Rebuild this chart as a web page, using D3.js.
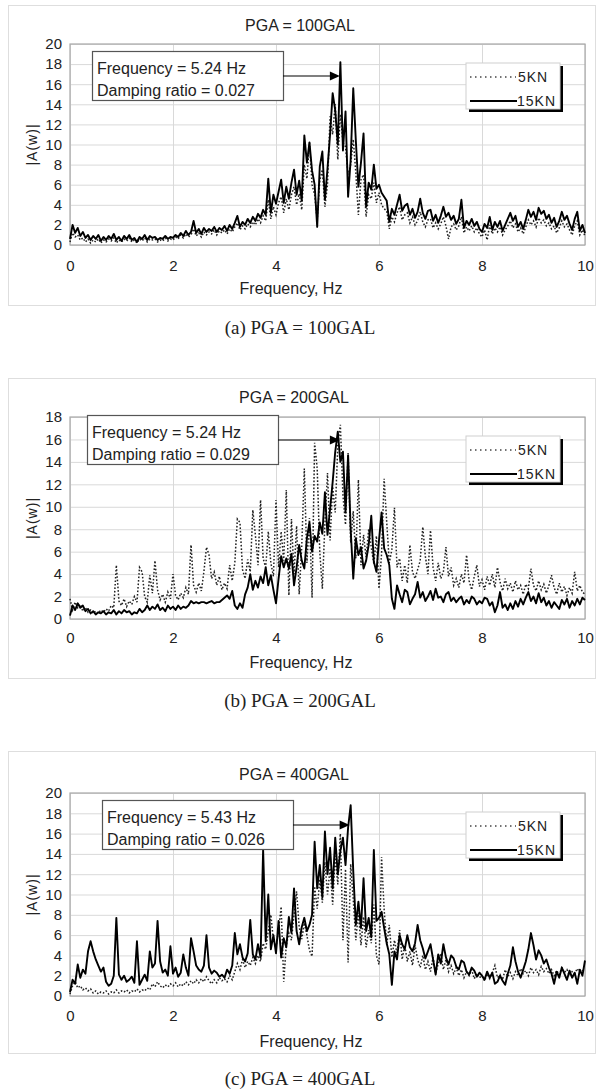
<!DOCTYPE html>
<html>
<head>
<meta charset="utf-8">
<script src="https://cdn.jsdelivr.net/npm/d3@7"></script>
<style>
  body { margin: 0; background: #fff; }
  svg { display: block; }
  text { font-family: "Liberation Sans", Arial, sans-serif; fill: #222; }
</style>
</head>
<body>
<script>
// spectra sampled every 0.05 Hz from 0 to 10 Hz (201 bins)
const freqStep = 0.05;
const xTicks = [0, 2, 4, 6, 8, 10];
const seriesNames = ['5KN', '15KN'];
const panelTitles = ['PGA = 100GAL', 'PGA = 200GAL', 'PGA = 400GAL'];
const panelCaptions = ['(a) PGA = 100GAL', '(b) PGA = 200GAL', '(c) PGA = 400GAL'];
const yMaxes = [20, 18, 20];
const peakFreqs = [5.24, 5.24, 5.43];
const dampingRatios = ['0.027', '0.029', '0.026'];

const a100_5kn = [
  0.3, 1.2, 0.8, 1.0, 0.5, 0.7, 0.3, 0.6, 0.2, 0.5,
  0.3, 0.6, 0.2, 0.5, 0.3, 0.6, 0.4, 0.7, 0.2, 0.5,
  0.3, 0.6, 0.4, 0.7, 0.3, 0.5, 0.2, 0.6, 0.4, 0.7,
  0.3, 0.6, 0.5, 0.6, 0.3, 0.5, 0.4, 0.7, 0.4, 0.6,
  0.5, 0.8, 0.6, 1.0, 0.7, 1.1, 0.8, 1.0, 1.6, 0.9,
  1.2, 0.8, 1.3, 1.0, 1.3, 1.1, 1.5, 1.0, 1.4, 1.2,
  1.5, 1.1, 1.6, 1.3, 1.8, 2.2, 1.5, 1.9, 1.6, 2.1,
  1.8, 2.3, 2.0, 2.6, 2.2, 2.9, 2.4, 4.5, 2.6, 3.8,
  3.0, 4.2, 4.8, 3.2, 4.6, 3.5, 5.0, 5.8, 4.0, 5.1,
  3.5, 8.0, 6.6, 10.2, 6.0, 5.0, 2.5, 6.4, 7.5, 3.8,
  6.0, 12.8, 11.0, 14.0, 8.5, 13.0, 10.2, 9.8, 7.0, 8.0,
  10.5, 7.2, 3.0, 6.5, 7.0, 2.8, 5.0, 4.6, 6.2, 4.2,
  5.2, 4.0, 3.6, 3.4, 1.6, 2.8, 2.3, 3.2, 3.8, 2.5,
  3.0, 3.2, 2.2, 2.8, 2.0, 2.4, 3.3, 2.3, 1.8, 2.5,
  2.6, 1.7, 2.2, 1.6, 2.1, 2.8, 1.9, 0.6, 1.8, 2.1,
  1.5, 1.9, 2.8, 1.2, 1.8, 1.4, 1.9, 1.3, 1.7, 1.1,
  0.8, 1.5, 0.5, 2.0, 1.1, 1.7, 1.3, 1.8, 1.0, 1.5,
  1.9, 2.4, 1.7, 2.1, 1.3, 1.7, 1.1, 1.8, 2.5, 2.0,
  2.4, 1.8, 2.7, 2.2, 2.5, 1.9, 2.2, 1.6, 1.9, 1.2,
  1.7, 2.4, 1.8, 2.1, 1.5, 1.0, 1.9, 2.4, 1.0, 1.5,
  0.9
];
const a100_15kn = [
  0.6, 2.0, 1.2, 1.7, 0.9, 1.3, 0.7, 1.0, 0.5, 0.9,
  0.6, 1.0, 0.4, 0.8, 0.5, 0.9, 0.6, 1.1, 0.5, 0.8,
  0.4, 0.9, 0.6, 1.0, 0.5, 0.7, 0.3, 0.8, 0.6, 1.0,
  0.5, 0.9, 0.7, 0.8, 0.5, 0.7, 0.6, 0.9, 0.6, 0.8,
  0.7, 1.0, 0.8, 1.2, 0.9, 1.4, 1.0, 1.3, 2.4, 1.2,
  1.6, 1.1, 1.7, 1.3, 1.6, 1.4, 1.8, 1.3, 1.7, 1.5,
  1.9, 1.4, 2.0, 1.6, 2.2, 2.9, 1.8, 2.3, 2.0, 2.6,
  2.2, 2.8, 2.4, 3.1, 2.7, 3.5, 3.0, 6.6, 3.2, 5.0,
  4.1, 5.3, 6.5, 4.2, 5.8, 4.6, 6.2, 7.5, 5.0, 6.4,
  4.4, 10.9, 8.2, 10.2, 7.4, 6.0, 1.8, 7.8, 9.3, 4.5,
  7.6, 11.0, 15.1, 13.4, 10.0, 18.2, 9.4, 13.3, 4.8, 8.5,
  15.6, 10.4, 5.8, 8.2, 11.1, 3.8, 6.2, 5.5, 8.0, 5.6,
  6.0, 5.2, 4.8, 4.4, 2.3, 3.6, 3.0, 4.0, 5.0, 3.4,
  3.9, 4.1, 3.0, 3.6, 2.7, 3.3, 4.6, 3.2, 2.6, 3.4,
  3.5, 2.4, 3.0, 2.2, 2.9, 3.8, 2.8, 3.2, 2.5, 2.9,
  2.1, 2.6, 4.5, 1.7, 2.4, 2.0, 2.6, 1.9, 2.3, 1.6,
  1.3, 2.1, 1.7, 2.8, 1.5, 2.3, 1.8, 2.4, 1.4, 2.0,
  2.6, 3.2, 2.4, 2.9, 1.8, 2.3, 1.6, 2.5, 3.5, 2.8,
  3.3, 2.5, 3.7, 3.1, 3.4, 2.6, 3.0, 2.2, 2.7, 1.8,
  2.4, 3.3, 2.5, 2.9, 2.1, 1.5, 2.6, 3.3, 1.4, 2.0,
  1.2
];
const a200_5kn = [
  1.8, 0.8, 1.5, 1.0, 1.3, 0.7, 1.0, 0.6, 0.8, 0.5,
  0.7, 0.5, 0.8, 0.6, 0.9, 0.7, 1.2, 1.0, 4.8, 1.6,
  1.2, 1.8, 1.1, 1.6, 1.3, 2.0, 1.5, 4.6, 4.2, 2.0,
  1.5, 3.9, 2.3, 5.2, 2.6, 1.7, 2.2, 1.5, 2.4, 1.8,
  4.0, 2.1, 1.7, 2.3, 1.9, 2.8, 2.2, 6.6, 3.0, 2.4,
  3.2, 2.5, 4.2, 6.4, 5.7, 3.6, 4.2, 3.0, 3.8, 2.6,
  3.2, 2.7, 4.8, 3.4, 5.0, 8.9, 8.6, 4.4, 3.6, 5.3,
  4.2, 9.7, 7.5, 4.8, 10.6, 5.4, 4.6, 7.8, 5.0, 3.8,
  10.6, 4.6, 7.8, 5.2, 11.5, 2.1, 8.9, 4.0, 8.3, 2.2,
  6.5, 13.4, 5.0, 9.0, 1.9, 15.7, 13.4, 6.0, 2.7, 8.5,
  13.0, 7.0, 11.8, 9.5, 15.5, 17.3, 11.0, 8.4, 14.8, 6.8,
  9.6, 5.4, 12.4, 4.8, 7.5, 5.5, 8.0, 6.4, 4.9, 7.4,
  2.7, 5.8, 12.5, 8.6, 5.0, 6.2, 9.9, 4.6, 5.4, 3.4,
  4.8, 3.2, 6.6, 4.2, 3.6, 4.4, 5.2, 8.2, 5.6, 4.0,
  7.9, 4.6, 3.4, 5.0, 3.6, 4.2, 6.4, 3.8, 4.6, 3.0,
  3.6, 2.8, 4.0, 3.2, 5.7, 3.4, 2.6, 3.8, 4.8, 2.9,
  3.5, 2.6, 3.8, 3.0, 4.0, 2.8, 4.6, 3.3, 2.5, 3.6,
  2.7, 3.2, 2.4, 3.4, 2.6, 3.0, 2.2, 3.1, 2.7, 4.5,
  3.0, 2.5, 3.4, 2.6, 3.1, 2.3, 3.0, 3.9, 2.8, 2.2,
  3.2, 2.4, 2.9, 2.1, 2.8, 2.3, 4.2, 2.5, 3.0, 2.4,
  2.2
];
const a200_15kn = [
  0.3, 1.2, 0.8, 1.4, 1.0, 1.2, 0.7, 0.9, 0.5, 0.7,
  0.4, 0.6, 0.5, 0.7, 0.4, 0.6, 0.5, 0.8, 0.4, 0.7,
  0.5, 0.8, 0.6, 0.7, 0.4, 0.6, 0.5, 0.9, 0.6, 0.8,
  1.2, 0.8, 1.1, 0.9, 1.3, 0.8, 1.0, 0.7, 1.2, 0.9,
  1.1, 0.8, 1.2, 0.9, 1.1, 1.0, 1.2, 1.6, 1.4, 1.5,
  1.4, 1.5, 1.5, 1.4, 1.5, 1.6, 1.4, 1.5, 1.5, 1.7,
  1.9, 2.1, 1.8, 2.5, 1.2, 0.9, 1.4, 1.0, 2.2, 2.8,
  4.0, 2.6, 3.4, 2.8, 3.8, 3.2, 4.6, 3.0, 3.9, 2.6,
  1.4, 3.6, 5.6, 4.6, 5.4, 4.5, 5.8, 3.0, 4.6, 6.6,
  5.2, 4.5, 7.2, 8.6, 6.0, 7.4, 6.9, 8.6, 7.6, 11.3,
  7.5, 9.8, 12.2, 14.9, 16.7, 14.0, 14.9, 9.5, 14.6, 8.0,
  3.6, 7.2, 5.7, 6.4, 4.5, 5.2, 6.6, 9.2, 5.1, 4.2,
  7.0, 9.5, 6.3, 5.7, 4.8, 1.8, 0.9, 3.0, 2.2, 1.5,
  2.6, 2.4, 1.3, 1.8, 2.2, 3.3, 1.9, 2.4, 1.6, 2.0,
  2.5, 1.7, 2.7, 1.9, 2.0, 1.5, 2.2, 2.4, 1.6, 1.9,
  1.5, 1.8, 2.0, 1.3, 1.7, 1.4, 2.0, 1.8, 1.3, 1.6,
  1.4, 1.9, 1.8, 1.2, 1.5, 0.6, 1.2, 2.4, 1.0, 1.3,
  0.8, 1.4, 0.9, 1.6, 1.1, 1.8, 1.3, 1.9, 2.4, 1.6,
  2.0, 1.4, 2.3, 1.5, 1.9, 1.2, 1.6, 1.0, 1.5, 1.2,
  0.9, 1.7, 1.3, 1.8, 1.0, 1.6, 1.2, 1.8, 1.3, 1.9,
  1.7
];
const a400_5kn = [
  0.2, 1.0, 1.4, 0.8, 1.0, 0.6, 0.8, 0.5, 0.7, 0.3,
  0.5, 0.2, 0.4, 0.3, 0.5, 0.2, 0.4, 0.3, 0.6, 0.3,
  0.5, 0.4, 0.6, 0.3, 0.5, 0.4, 0.7, 0.4, 0.6, 0.5,
  0.8, 0.6, 1.2, 0.9, 1.4, 1.0, 0.8, 1.1, 0.9, 1.2,
  1.0, 1.3, 0.9, 1.2, 1.0, 1.4, 1.1, 1.5, 1.2, 1.6,
  1.3, 1.7, 1.4, 1.9, 1.5, 1.2, 1.6, 1.3, 1.8, 1.5,
  1.7, 1.4, 2.0, 1.6, 2.4, 3.2, 2.6, 3.6, 2.8, 3.4,
  3.0, 3.8, 3.2, 4.0, 3.4, 5.2, 4.6, 6.4, 8.0, 5.5,
  4.8, 6.5, 8.8, 1.4, 5.0, 6.2, 5.5, 8.0, 10.3, 6.8,
  5.6, 7.2, 6.0, 4.5, 3.9, 10.8, 8.6, 11.5, 9.2, 13.2,
  10.0, 12.6, 9.0, 13.8, 11.0, 16.0, 5.5, 12.5, 3.3, 13.0,
  9.5, 5.5, 8.2, 5.0, 7.8, 4.8, 6.5, 5.2, 9.0, 4.0,
  3.1, 13.7, 8.5, 5.0, 7.0, 3.8, 5.5, 4.2, 6.5, 3.6,
  5.0, 3.4, 4.4, 3.0, 5.0, 3.6, 2.8, 4.0, 2.6, 3.4,
  2.4, 3.8, 2.2, 3.2, 4.2, 2.6, 3.6, 2.4, 3.0, 2.2,
  2.8, 2.0, 2.6, 1.8, 2.4, 2.0, 2.6, 1.7, 2.2, 1.8,
  2.0, 1.5, 2.2, 1.7, 2.3, 3.0, 1.8, 2.1, 1.6, 2.6,
  1.9, 2.3, 1.7, 2.4, 2.0, 2.7, 2.2, 2.5, 2.0, 2.8,
  2.3, 2.6, 2.1, 2.9, 2.4, 2.7, 2.2, 2.6, 2.0, 2.5,
  2.1, 2.8, 2.3, 2.6, 2.0, 2.4, 2.2, 2.7, 2.3, 2.5,
  2.6
];
const a400_15kn = [
  0.4, 1.6, 1.2, 3.1, 1.8, 2.6, 2.2, 4.4, 5.4, 4.4,
  3.6, 3.0, 2.4, 2.8, 1.4, 1.0, 1.2, 2.0, 7.7, 2.1,
  1.6, 2.0, 1.4, 1.6, 1.9, 1.3, 5.4, 1.1, 1.6, 2.1,
  1.5, 4.4, 2.8, 3.2, 7.4, 3.4, 2.3, 2.6, 2.0, 4.9,
  2.2, 2.8, 1.9, 2.3, 4.1, 2.8, 2.0, 5.7, 4.4, 3.0,
  2.6, 2.4, 3.0, 6.0, 2.8, 2.2, 2.5, 2.3, 1.9, 2.1,
  1.8, 2.6, 2.2, 3.0, 6.2, 4.1, 5.1, 3.8, 3.4, 4.2,
  7.5, 4.1, 3.6, 5.1, 3.8, 14.4, 5.4, 10.0, 4.6, 6.0,
  4.2, 7.4, 3.8, 5.7, 4.8, 7.8, 6.2, 10.6, 6.4, 5.1,
  6.8, 7.7, 6.4, 7.0, 8.0, 15.2, 10.6, 12.9, 9.7, 16.2,
  12.0, 14.6, 10.6, 15.6, 12.0, 14.3, 15.6, 12.9, 16.6, 18.8,
  12.3, 7.0, 9.3, 6.7, 11.6, 6.4, 7.7, 5.8, 14.4, 7.4,
  7.7, 8.3, 6.7, 5.2, 4.1, 1.1, 4.4, 3.6, 6.0, 5.1,
  4.6, 6.0, 4.8, 4.4, 5.2, 7.0, 5.5, 4.7, 3.7, 4.4,
  5.1, 3.6, 2.1, 4.1, 3.2, 5.1, 3.8, 3.1, 4.0, 3.7,
  2.9, 2.6, 3.5, 3.3, 2.4, 2.1, 2.8, 2.5, 1.9, 2.3,
  2.0, 1.6, 2.4, 1.8, 2.3, 1.2, 1.4, 2.0, 1.5, 1.1,
  2.2, 3.0, 4.8, 3.4, 2.4, 1.8, 2.6, 3.4, 4.6, 6.2,
  5.0, 3.6, 4.5, 4.0, 3.2, 3.6, 2.8, 2.2, 1.2, 2.4,
  1.8, 2.8, 2.2, 1.6, 2.5, 1.8, 2.3, 1.2, 2.6, 2.0,
  3.5
];
const panelSeries = [
  [a100_5kn, a100_15kn],
  [a200_5kn, a200_15kn],
  [a400_5kn, a400_15kn]
];

// ---- layout (pixels) ----
const width = 597, height = 1090;
const plotLeft = 70, plotRight = 585;
const layouts = [
  { frameTop: 5, frameBottom: 305, titleX: 300, titleY: 25, plotTop: 44, plotBottom: 245,
    tickY: 266, xLabelX: 291, xLabelY: 288, captionY: 327, boxX: 92, boxY: 51 },
  { frameTop: 378, frameBottom: 678, titleX: 294, titleY: 397, plotTop: 417, plotBottom: 619,
    tickY: 638, xLabelX: 301, xLabelY: 662, captionY: 700, boxX: 87, boxY: 415 },
  { frameTop: 751, frameBottom: 1053, titleX: 294, titleY: 774, plotTop: 793, plotBottom: 996,
    tickY: 1016, xLabelX: 311, xLabelY: 1041, captionY: 1078, boxX: 102, boxY: 800 }
];

const svg = d3.select('body').append('svg')
    .attr('width', width)
    .attr('height', height);

const x = d3.scaleLinear().domain([0, 10]).range([plotLeft, plotRight]);

layouts.forEach((L, p) => drawPanel(L, p));

function drawPanel (L, p) {
  const g = svg.append('g');
  const yMax = yMaxes[p];
  const y = d3.scaleLinear().domain([0, yMax]).range([L.plotBottom, L.plotTop]);
  const yTicks = d3.range(0, yMax + 1, 2);

  // chart area frame
  g.append('rect')
    .attr('x', 8.5).attr('y', L.frameTop + 0.5)
    .attr('width', 587).attr('height', L.frameBottom - L.frameTop)
    .attr('fill', '#fff').attr('stroke', '#dedede');

  g.append('text')
    .attr('x', L.titleX).attr('y', L.titleY)
    .attr('text-anchor', 'middle').attr('dominant-baseline', 'central')
    .style('font-size', '16px')
    .text(panelTitles[p]);

  // axes + gridlines
  const yAxis = g.append('g')
    .attr('transform', `translate(${plotLeft},0)`)
    .call(d3.axisLeft(y).tickValues(yTicks).tickSize(-(plotRight - plotLeft)).tickPadding(8));
  const xAxis = g.append('g')
    .attr('transform', `translate(0,${L.plotBottom})`)
    .call(d3.axisBottom(x).tickValues(xTicks).tickSize(-(L.plotBottom - L.plotTop)));
  [yAxis, xAxis].forEach((ax) => {
    ax.select('.domain').remove();
    ax.selectAll('line').attr('stroke', '#d9d9d9').attr('stroke-width', 1);
    ax.selectAll('text')
      .style('font-size', '15px')
      .style('font-family', '"Liberation Sans", Arial, sans-serif')
      .attr('fill', '#222');
  });
  xAxis.selectAll('text').attr('y', L.tickY - L.plotBottom).attr('dy', '0.35em');

  g.append('rect')
    .attr('x', plotLeft).attr('y', L.plotTop)
    .attr('width', plotRight - plotLeft).attr('height', L.plotBottom - L.plotTop)
    .attr('fill', 'none').attr('stroke', '#a8a8a8').attr('stroke-width', 1.2);

  g.append('text')
    .attr('transform', `translate(32,${(L.plotTop + L.plotBottom) / 2}) rotate(-90)`)
    .attr('text-anchor', 'middle').attr('dominant-baseline', 'central')
    .style('font-size', '14px').style('letter-spacing', '1px')
    .text('|A(w)|');

  g.append('text')
    .attr('x', L.xLabelX).attr('y', L.xLabelY)
    .attr('text-anchor', 'middle').attr('dominant-baseline', 'central')
    .style('font-size', '16px')
    .text('Frequency, Hz');

  // spectra
  const line = d3.line()
    .x((d, i) => x(i * freqStep))
    .y((d) => y(d));
  const [s5, s15] = panelSeries[p];
  g.append('path')
    .attr('d', line(s5))
    .attr('fill', 'none').attr('stroke', '#222')
    .attr('stroke-width', 1.5).attr('stroke-dasharray', '1.6 1.9');
  g.append('path')
    .attr('d', line(s15))
    .attr('fill', 'none').attr('stroke', '#000')
    .attr('stroke-width', 1.9).attr('stroke-linejoin', 'round');

  // annotation box + arrow to the peak
  const boxW = 191, boxH = 49;
  g.append('rect')
    .attr('x', L.boxX + 0.5).attr('y', L.boxY + 0.5)
    .attr('width', boxW).attr('height', boxH)
    .attr('fill', '#fff').attr('stroke', '#555').attr('stroke-width', 1.2);
  const lines = [`Frequency = ${peakFreqs[p].toFixed(2)} Hz`, `Damping ratio = ${dampingRatios[p]}`];
  lines.forEach((t, i) => {
    g.append('text')
      .attr('x', L.boxX + 5).attr('y', L.boxY + 17 + i * 22)
      .attr('dominant-baseline', 'central')
      .style('font-size', '16px')
      .text(t);
  });
  const tipX = x(peakFreqs[p]);
  const ay = L.boxY + 25;
  g.append('line')
    .attr('x1', L.boxX + boxW).attr('x2', tipX - 9)
    .attr('y1', ay).attr('y2', ay)
    .attr('stroke', '#000').attr('stroke-width', 1.2);
  g.append('path')
    .attr('d', `M${tipX},${ay}L${tipX - 10},${ay - 4.5}L${tipX - 10},${ay + 4.5}Z`)
    .attr('fill', '#000');

  // legend with drop shadow
  const lg = g.append('g').attr('transform', `translate(466,${L.plotTop + 19})`);
  lg.append('rect').attr('x', 3).attr('y', 3).attr('width', 94).attr('height', 46).attr('fill', '#000');
  lg.append('rect').attr('x', 0).attr('y', 0).attr('width', 94).attr('height', 46)
    .attr('fill', '#fff').attr('stroke', '#d0d0d0');
  seriesNames.forEach((name, i) => {
    const ly = 14 + i * 24;
    lg.append('line')
      .attr('x1', 4).attr('x2', i ? 51 : 50).attr('y1', ly).attr('y2', ly)
      .attr('stroke', i ? '#000' : '#444')
      .attr('stroke-width', i ? 2 : 1.3)
      .attr('stroke-dasharray', i ? null : '1.5 3.5');
    lg.append('text')
      .attr('x', i ? 51 : 52).attr('y', ly)
      .attr('dominant-baseline', 'central')
      .style('font-size', '14px').style('letter-spacing', '1px')
      .text(name);
  });

  // caption under the chart
  svg.append('text')
    .attr('x', 300).attr('y', L.captionY)
    .attr('text-anchor', 'middle').attr('dominant-baseline', 'central')
    .style('font-family', '"Liberation Serif", "Times New Roman", serif')
    .style('font-size', '19px')
    .text(panelCaptions[p]);
}
</script>
</body>
</html>
